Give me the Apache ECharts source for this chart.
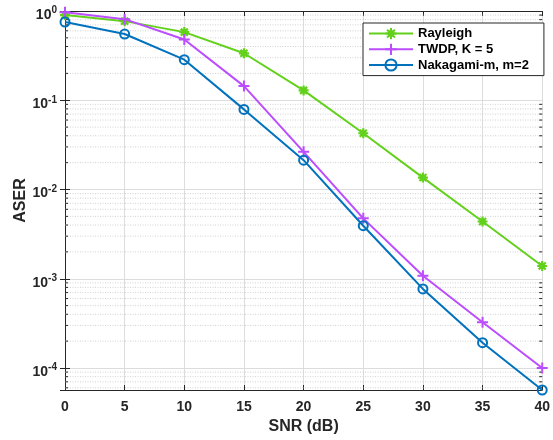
<!DOCTYPE html>
<html>
<head>
<meta charset="utf-8">
<script src="https://cdn.jsdelivr.net/npm/echarts@6/dist/echarts.min.js"></script>
<style>html,body{margin:0;padding:0;background:#fff}#c{width:553px;height:440px}</style>
</head>
<body>
<div id="c"></div>
<script>
const snr = [0, 5, 10, 15, 20, 25, 30, 35, 40];
const rayleigh = [0.90, 0.77, 0.58, 0.336, 0.129, 0.0427, 0.0136, 0.00438, 0.00139];
const twdp = [0.97, 0.81, 0.48, 0.144, 0.0264, 0.00475, 0.00108, 0.000325, 0.000100];
const nakagami = [0.753, 0.552, 0.285, 0.079, 0.0213, 0.00393, 0.00077, 0.000192, 0.0000567];
const seriesNames = ['Rayleigh', 'TWDP, K = 5', 'Nakagami-m, m=2'];
const xTicks = [0, 5, 10, 15, 20, 25, 30, 35, 40];
const yMin = 0.0000567, yMax = 1;

const minorVals = [];
for (let e = -5; e <= -1; e++) for (let m = 2; m <= 9; m++) {
  const v = m * Math.pow(10, e);
  if (v > yMin && v < yMax) minorVals.push(v);
}

const FONT = 'Liberation Sans';
const AX = '#262626';
const GREEN = '#63d11c', PURPLE = '#bb4dff', BLUE = '#0072bd';

function pack(ys) { return snr.map((x, i) => [x, ys[i]]); }

const chart = echarts.init(document.getElementById('c'), null, {renderer: 'canvas'});
const yLabel = function (v) {
  const l = Math.log10(v), e = Math.round(l);
  if (Math.abs(l - e) > 1e-6) return '';
  return '{b|10}{s|' + e + '}';
};
chart.setOption({
  animation: false,
  backgroundColor: '#fff',
  textStyle: {fontFamily: FONT},
  grid: {left: 65, right: 7, top: 11, bottom: 50},
  legend: {
    orient: 'vertical', left: 363, top: 23,
    backgroundColor: '#fff', borderColor: AX, borderWidth: 1,
    padding: [4, 15, 4, 5], itemGap: 2.5, itemWidth: 44, itemHeight: 14,
    textStyle: {fontFamily: FONT, fontWeight: 'bold', fontSize: 13, color: '#000'},
    data: seriesNames
  },
  xAxis: [{
    type: 'value', min: 0, max: 40, interval: 5,
    name: 'SNR (dB)', nameLocation: 'middle', nameGap: 27,
    nameTextStyle: {fontFamily: FONT, fontWeight: 'bold', fontSize: 16, color: AX},
    axisLine: {show: true, onZero: false, lineStyle: {color: AX, width: 1}},
    axisTick: {inside: true, length: 5, lineStyle: {color: AX}},
    axisLabel: {fontFamily: FONT, fontWeight: 'bold', fontSize: 14, color: AX, margin: 10},
    splitLine: {show: true, lineStyle: {color: '#dcdcdc', width: 1}}
  }, {
    type: 'value', min: 0, max: 40, interval: 5, position: 'top',
    axisLine: {show: true, lineStyle: {color: AX, width: 1}},
    axisTick: {inside: true, length: 5, lineStyle: {color: AX}},
    axisLabel: {show: false}, splitLine: {show: false}
  }],
  yAxis: [{
    type: 'log', logBase: 10, min: yMin, max: yMax,
    name: 'ASER', nameLocation: 'middle', nameGap: 36, nameMoveOverlap: false,
    nameTextStyle: {fontFamily: FONT, fontWeight: 'bold', fontSize: 16, color: AX},
    axisLine: {show: true, lineStyle: {color: AX, width: 1}},
    axisTick: {inside: true, length: 5, lineStyle: {color: AX}},
    axisLabel: {
      formatter: yLabel, color: AX, margin: 8, showMinLabel: false,
      padding: [8, 0, 0, 0],
      rich: {
        b: {fontFamily: FONT, fontWeight: 'bold', fontSize: 14, color: AX},
        s: {fontFamily: FONT, fontWeight: 'bold', fontSize: 10, color: AX, padding: [0, 0, 9, 0]}
      }
    },
    splitLine: {show: true, lineStyle: {color: '#dcdcdc', width: 1}}
  }, {
    type: 'log', logBase: 10, min: yMin, max: yMax, position: 'right',
    axisLine: {show: true, lineStyle: {color: AX, width: 1}},
    axisTick: {inside: true, length: 5, lineStyle: {color: AX}},
    axisLabel: {show: false}, splitLine: {show: false}
  }],
  series: [
    {
      type: 'custom', silent: true, z: 1,
      xAxisIndex: 0, yAxisIndex: 0,
      data: minorVals.map(v => [0, v]),
      renderItem: function (params, api) {
        const cs = params.coordSys;
        const y = api.coord([0, api.value(1)])[1];
        return {
          type: 'group', children: [
            {type: 'line', shape: {x1: cs.x, y1: y, x2: cs.x + cs.width, y2: y},
              style: {stroke: '#d2d2d2', lineWidth: 1, lineDash: [1, 1.5]}},
            {type: 'line', shape: {x1: cs.x, y1: y, x2: cs.x + 3, y2: y},
              style: {stroke: AX, lineWidth: 1}},
            {type: 'line', shape: {x1: cs.x + cs.width - 3, y1: y, x2: cs.x + cs.width, y2: y},
              style: {stroke: AX, lineWidth: 1}}
          ]
        };
      }
    },
    {
      name: seriesNames[0], type: 'line', data: pack(rayleigh), z: 3,
      color: GREEN,
      lineStyle: {color: GREEN, width: 2},
      symbol: 'path://M0,5L10,5M5,0L5,10M1.5,1.5L8.5,8.5M8.5,1.5L1.5,8.5M3,3L7,3L7,7L3,7Z',
      symbolSize: 10,
      itemStyle: {color: GREEN, borderColor: GREEN, borderWidth: 2.2}
    },
    {
      name: seriesNames[1], type: 'line', data: pack(twdp), z: 4,
      color: PURPLE,
      lineStyle: {color: PURPLE, width: 2},
      symbol: 'path://M0,5L10,5M5,0L5,10',
      symbolSize: 11,
      itemStyle: {color: PURPLE, borderColor: PURPLE, borderWidth: 2}
    },
    {
      name: seriesNames[2], type: 'line', data: pack(nakagami), z: 5,
      color: BLUE,
      lineStyle: {color: BLUE, width: 2},
      symbol: 'circle', symbolSize: 9,
      itemStyle: {color: 'rgba(255,255,255,0)', borderColor: BLUE, borderWidth: 2}
    }
  ]
});
</script>
</body>
</html>
